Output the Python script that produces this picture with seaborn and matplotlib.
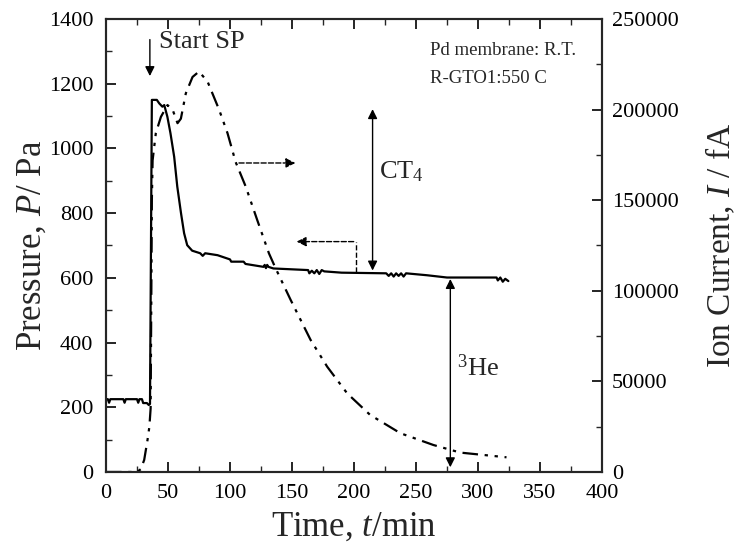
import matplotlib
matplotlib.use('Agg')
import matplotlib.pyplot as plt
import seaborn as sns
from matplotlib.ticker import MultipleLocator

# pressure trace (left axis), Pa
p_time = [0, 1.5, 2.5, 3.5, 14, 15, 16, 25, 26, 27, 29, 30, 33, 34.5, 35.5,
          37, 38.5, 41, 43, 45.5, 47, 49.5, 52, 55, 57.5, 60.5, 63, 65.5,
          69.5, 76, 78, 80, 90, 100, 101, 111, 112.5, 127, 128, 129, 130,
          131, 135, 163, 164, 166, 168, 170, 172, 174, 176, 190, 226, 228,
          230, 232, 234, 236, 238, 240, 242, 259, 275, 315, 316, 318, 320,
          322, 324.5]
p_vals = [225, 225, 214, 225, 225, 214, 225, 225, 214, 225, 225, 213, 213,
          207, 210, 1150, 1150, 1150, 1139, 1129, 1134, 1098, 1047, 974, 882,
          800, 738, 701, 684, 676, 668, 676, 670, 657, 650, 650, 643, 634,
          640, 630, 640, 634, 629, 624, 614, 622, 614, 624, 612, 624, 620,
          616, 614, 606, 614, 604, 614, 606, 614, 604, 614, 608, 601, 601,
          592, 601, 588, 597, 590]

# ion current trace (right axis), fA
i_time = [0, 25, 28, 30.8, 33.5, 35, 36, 36.5, 37, 37.6, 40.2, 44.3, 49.6,
          53.7, 57.7, 60.4, 64.4, 69.8, 75, 81.9, 91.2, 98, 104.6, 112.7,
          122, 131.4, 136.8, 148.9, 165, 178.4, 194.5, 213, 237.4, 264,
          285.7, 323]
i_vals = [0, 0, 1500, 6600, 17700, 25000, 35000, 90000, 150000, 172000,
          187000, 196000, 202500, 200000, 192500, 195000, 209000, 218000,
          221000, 215500, 200000, 187000, 171000, 157500, 139000, 120700,
          112400, 95000, 72900, 58100, 43400, 31500, 21400, 14900, 10700,
          8100]

sns.set_theme(style='ticks')
plt.rcParams['font.family'] = ['Liberation Serif', 'DejaVu Serif']
plt.rcParams['mathtext.fontset'] = 'custom'
plt.rcParams['mathtext.rm'] = 'Liberation Serif'
plt.rcParams['mathtext.it'] = 'Liberation Serif:italic'

fig = plt.figure(figsize=(7.37, 5.43), dpi=100)
ax = fig.add_axes([0.1438, 0.1308, 0.673, 0.8342])
ax2 = ax.twinx()

sns.lineplot(x=p_time, y=p_vals, ax=ax, color='black', lw=1.6,
             estimator=None, sort=False)
sns.lineplot(x=i_time, y=i_vals, ax=ax2, color='black', lw=1.6,
             estimator=None, sort=False, linestyle=(0, (7, 3, 1.5, 3, 1.5, 3)))

ax.set_xlim(0, 400)
ax.set_ylim(0, 1400)
ax2.set_ylim(0, 250000)

ax.xaxis.set_major_locator(MultipleLocator(50))
ax.xaxis.set_minor_locator(MultipleLocator(25))
ax.yaxis.set_major_locator(MultipleLocator(200))
ax.yaxis.set_minor_locator(MultipleLocator(100))
ax2.yaxis.set_major_locator(MultipleLocator(50000))
ax2.yaxis.set_minor_locator(MultipleLocator(25000))

for a in (ax, ax2):
    for s in a.spines.values():
        s.set_linewidth(1.5)
        s.set_visible(True)
    a.tick_params(which='major', direction='in', length=7, width=1.2,
                  labelsize=16, colors='black')
    a.tick_params(which='minor', direction='in', length=4, width=1.0)
ax.tick_params(which='both', top=True, right=False)
ax.tick_params(axis='x', pad=9)
ax.tick_params(axis='y', pad=9)
ax2.tick_params(which='both', left=False, right=True, pad=7)

ax.set_xlabel('Time, $t$/min', fontsize=25, labelpad=5)
ax.set_ylabel('Pressure, $P$/ Pa', fontsize=25, labelpad=0)
ax2.set_ylabel('Ion Current, $I$ / fA', fontsize=24, labelpad=18)

# annotations
solid = dict(arrowstyle='-|>', color='black', lw=1.0, mutation_scale=14)
both = dict(arrowstyle='<|-|>', color='black', lw=1.0, mutation_scale=14)
dashed = dict(arrowstyle='-|>', color='black', lw=1.0, ls='--',
              mutation_scale=14)

ax.annotate('', xy=(35.4, 1215), xytext=(35.4, 1345), arrowprops=solid)
ax.text(42.5, 1330, 'Start SP', fontsize=19, va='center', ha='left')

ax.annotate('', xy=(155, 955), xytext=(105, 955), arrowprops=dashed)
ax.plot([202, 202], [619, 712], color='black', lw=1.0, ls='--')
ax.annotate('', xy=(151.5, 712), xytext=(202, 712), arrowprops=dashed)

ax.annotate('', xy=(215, 614), xytext=(215, 1130), arrowprops=both)
ax.text(220, 927, 'CT$_4$', fontsize=19, va='center', ha='left')

ax.annotate('', xy=(277.7, 6), xytext=(277.7, 605), arrowprops=both)
ax.text(283, 321, '$^{3}$He', fontsize=19, va='center', ha='left')

ax.text(261.5, 1304, 'Pd membrane: R.T.', fontsize=13.5, va='center')
ax.text(261.5, 1217, 'R-GTO1:550 C', fontsize=13.5, va='center')

fig.savefig('out.png', dpi=100)
